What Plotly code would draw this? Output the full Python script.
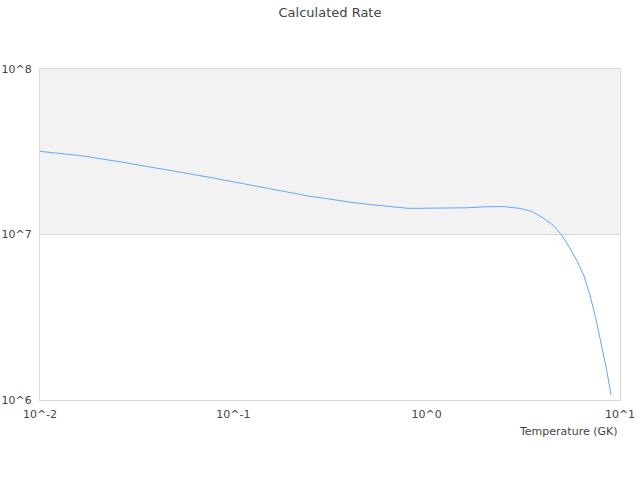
import plotly.graph_objects as go


# temperature grid (GK) and rate
TEMPERATURE = [
    0.01, 0.012, 0.014, 0.016, 0.018, 0.02, 0.025, 0.03, 0.035, 0.04,
    0.05, 0.06, 0.07, 0.08, 0.09, 0.1, 0.12, 0.14, 0.16, 0.18,
    0.2, 0.25, 0.3, 0.35, 0.4, 0.5, 0.6, 0.7, 0.8, 0.9,
    1.0, 1.2, 1.4, 1.6, 1.8, 2.0, 2.5, 3.0, 3.5, 4.0,
    4.5, 5.0, 5.5, 6.0, 6.5, 7.0, 7.5, 8.0, 8.5, 9.0,
]
RATE = [
    3.18e7, 3.12e7, 3.07e7, 3.00e7, 2.94e7, 2.89e7, 2.77e7, 2.67e7, 2.59e7, 2.53e7,
    2.41e7, 2.32e7, 2.25e7, 2.19e7, 2.13e7, 2.08e7, 2.00e7, 1.93e7, 1.87e7, 1.82e7,
    1.78e7, 1.70e7, 1.65e7, 1.60e7, 1.57e7, 1.52e7, 1.49e7, 1.465e7, 1.44e7, 1.44e7,
    1.44e7, 1.44e7, 1.44e7, 1.45e7, 1.46e7, 1.47e7, 1.475e7, 1.44e7, 1.38e7, 1.26e7,
    1.14e7, 9.9e6, 8.3e6, 6.9e6, 5.65e6, 4.28e6, 3.10e6, 2.18e6, 1.55e6, 1.07e6,
]

X_TICKS = [0.01, 0.1, 1, 10]
X_TICK_LABELS = ["10^-2", "10^-1", "10^0", "10^1"]
Y_TICKS = [1e6, 1e7, 1e8]
Y_TICK_LABELS = ["10^6", "10^7", "10^8"]

FONT = "DejaVu Sans, sans-serif"
TEXT_COLOR = "#444444"
LINE_GREY = "#d9d9d9"


def build_plot():
    fig = go.Figure()

    # ---------- BAND ----------
    fig.add_shape(
        type="rect",
        xref="paper",
        yref="paper",
        x0=0,
        x1=1,
        y0=0.5,
        y1=1,
        fillcolor="#f2f2f2",
        line=dict(width=0),
        layer="below",
    )

    # ---------- RATE ----------
    fig.add_trace(
        go.Scatter(
            x=TEMPERATURE,
            y=RATE,
            mode="lines",
            name="Rate",
            line=dict(color="#5fa8f6", width=1),
        )
    )

    fig.update_xaxes(
        type="log",
        range=[-2, 1],
        tickvals=X_TICKS,
        ticktext=X_TICK_LABELS,
        showgrid=False,
        zeroline=False,
        showline=True,
        mirror=True,
        linecolor=LINE_GREY,
        linewidth=1,
        ticks="",
        ticklabelstandoff=4,
        automargin=False,
        tickfont=dict(size=11, color=TEXT_COLOR),
    )

    fig.update_yaxes(
        type="log",
        range=[6, 8],
        tickvals=Y_TICKS,
        ticktext=Y_TICK_LABELS,
        showgrid=True,
        gridcolor=LINE_GREY,
        zeroline=False,
        showline=True,
        mirror=True,
        linecolor=LINE_GREY,
        linewidth=1,
        ticks="",
        ticklabelstandoff=5,
        automargin=False,
        tickfont=dict(size=11, color=TEXT_COLOR),
    )

    fig.add_annotation(
        text="Temperature (GK)",
        xref="paper",
        yref="paper",
        x=1,
        y=-0.094,
        xanchor="right",
        yanchor="middle",
        showarrow=False,
        font=dict(size=11, color=TEXT_COLOR),
    )

    fig.update_layout(
        title=dict(
            text="Calculated Rate",
            x=0.5,
            xanchor="center",
            xref="paper",
            y=0.975,
            yref="container",
            yanchor="middle",
            automargin=False,
            font=dict(size=13, color=TEXT_COLOR),
        ),
        font=dict(family=FONT, color=TEXT_COLOR),
        width=640,
        height=480,
        margin=dict(l=40, r=20, t=69, b=80, autoexpand=False),
        plot_bgcolor="white",
        paper_bgcolor="white",
        showlegend=False,
    )

    return fig


def main():
    fig = build_plot()
    # page body has a default 8px margin; drop it so the figure sits at 0,0
    fig.write_html(
        "out.html",
        config={"displayModeBar": False},
        post_script="document.body.style.margin = '0';",
    )


if __name__ == "__main__":
    main()
